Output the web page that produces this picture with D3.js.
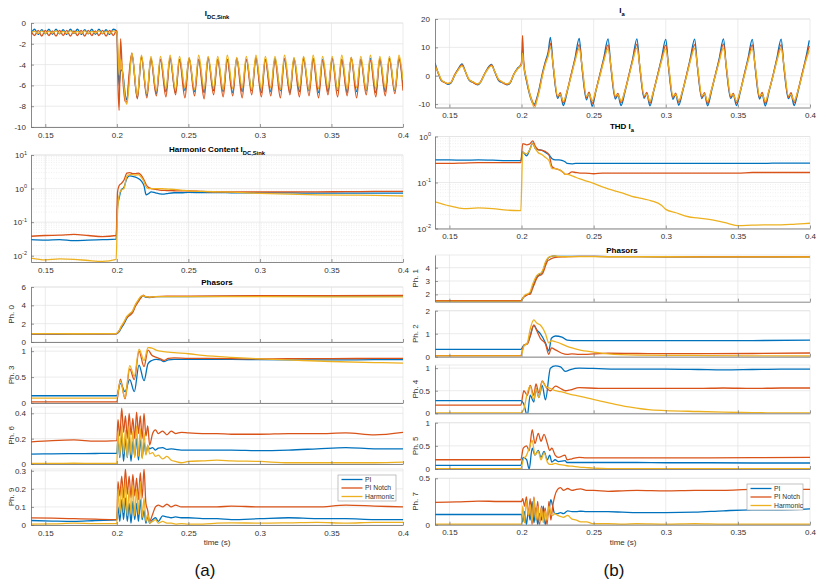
<!DOCTYPE html>
<html>
<head>
<meta charset="utf-8">
<script src="https://cdn.jsdelivr.net/npm/d3@7"></script>
<style>
body { margin: 0; background: #fff; }
svg text { font-family: "Liberation Sans", Arial, Helvetica, sans-serif; }
</style>
</head>
<body>
<svg id="chart" width="818" height="580"></svg>
<script>
// ---------- data ----------
var seriesNames = ["PI", "PI Notch", "Harmonic"];
var colors = ["#0072BD", "#D95319", "#EDB120"];
var xTickValues = [0.15, 0.2, 0.25, 0.3, 0.35, 0.4];

// (a) I_DC,Sink
var tIdc = [0.14,0.1425,0.145,0.1475,0.15,0.1525,0.155,0.1575,0.16,0.1625,0.165,0.1675,0.17,0.1725,0.175,0.1775,0.18,0.1825,0.185,0.1875,0.19,0.1925,0.195,0.1975,0.2,
  0.2008,0.2016,0.2026,0.2036,0.2048,0.2058,0.207,0.2085,
  0.2105,0.2143,0.2172,0.221,0.2238,0.2276,0.2305,0.2343,0.2372,0.241,0.2438,0.2476,0.2505,0.2543,0.2572,0.261,0.2638,0.2676,0.2705,0.2743,0.2772,0.281,0.2838,0.2876,0.2905,0.2943,0.2972,0.301,0.3038,0.3076,0.3105,0.3143,0.3172,0.321,0.3238,0.3276,0.3305,0.3343,0.3372,0.341,0.3438,0.3476,0.3505,0.3543,0.3572,0.361,0.3638,0.3676,0.3705,0.3743,0.3772,0.381,0.3838,0.3876,0.3905,0.3943,0.3972,0.4];
var idcPI = [-1.0,-0.6,-1.1,-0.65,-1.05,-0.6,-1.1,-0.6,-1.05,-0.65,-1.1,-0.6,-1.0,-0.6,-1.1,-0.65,-1.05,-0.6,-1.1,-0.6,-1.05,-0.65,-1.1,-0.6,-0.8,
  -4.2,-6.0,-4.6,-4.5,-5.5,-6.8,-7.4,-5.5,
  -3.0,-7.2,-3.3,-7.0,-3.4,-6.8,-3.5,-6.6,-3.4,-6.7,-3.5,-6.5,-3.4,-6.6,-3.5,-6.7,-3.4,-6.5,-3.5,-6.6,-3.5,-6.7,-3.4,-6.6,-3.5,-6.5,-3.4,-6.7,-3.5,-6.6,-3.4,-6.5,-3.5,-6.7,-3.4,-6.6,-3.5,-6.5,-3.4,-6.7,-3.5,-6.6,-3.4,-6.5,-3.5,-6.7,-3.4,-6.6,-3.5,-6.5,-3.4,-6.7,-3.5,-6.6,-3.4,-6.5,-3.5,-5.8];
var idcNotch = [-0.8,-1.2,-0.7,-1.25,-0.7,-1.2,-0.75,-1.25,-0.7,-1.2,-0.7,-1.25,-0.75,-1.2,-0.7,-1.25,-0.7,-1.2,-0.75,-1.2,-0.7,-1.25,-0.7,-1.2,-0.7,
  -6.0,-8.4,-1.5,-4.0,-6.5,-7.5,-7.6,-5.0,
  -2.9,-7.3,-3.2,-7.2,-3.4,-7.0,-3.5,-7.1,-3.3,-6.9,-3.6,-7.2,-3.4,-7.0,-3.5,-7.3,-3.3,-6.9,-3.5,-7.1,-3.6,-7.0,-3.4,-7.2,-3.5,-6.9,-3.3,-7.1,-3.5,-7.0,-3.6,-7.2,-3.4,-6.9,-3.5,-7.1,-3.3,-7.0,-3.5,-7.2,-3.6,-6.9,-3.4,-7.1,-3.5,-7.0,-3.3,-7.2,-3.5,-6.9,-3.6,-7.1,-3.4,-7.0,-3.5,-6.8,-3.3,-6.5];
var idcHarm = [-0.9,-0.8,-1.0,-0.75,-1.0,-0.8,-0.95,-0.75,-1.0,-0.8,-1.0,-0.75,-0.95,-0.8,-1.0,-0.75,-1.0,-0.8,-0.95,-0.75,-1.0,-0.8,-1.0,-0.75,-0.9,
  -2.5,-5.0,-3.5,-4.2,-5.8,-7.2,-7.8,-6.0,
  -2.9,-7.0,-3.1,-6.8,-3.2,-6.5,-3.2,-6.3,-3.1,-6.4,-3.2,-6.2,-3.3,-6.4,-3.1,-6.3,-3.2,-6.2,-3.2,-6.4,-3.1,-6.3,-3.3,-6.2,-3.2,-6.4,-3.1,-6.3,-3.2,-6.2,-3.2,-6.4,-3.1,-6.3,-3.3,-6.2,-3.2,-6.4,-3.1,-6.3,-3.2,-6.2,-3.2,-6.4,-3.1,-6.3,-3.3,-6.2,-3.2,-6.4,-3.1,-6.3,-3.2,-6.2,-3.2,-6.4,-3.1,-5.5];

// (a) Harmonic content of I_DC,Sink
var tHc = [0.14,0.15,0.16,0.17,0.18,0.19,0.1995,0.2005,0.2015,0.203,0.205,0.207,0.209,0.211,0.213,0.215,0.217,0.219,0.2205,0.222,0.224,0.227,0.23,0.233,0.236,0.24,0.245,0.25,0.26,0.27,0.28,0.3,0.32,0.34,0.36,0.38,0.4];
var hcPI = [0.03,0.029,0.03,0.028,0.029,0.03,0.031,0.3,0.5,0.9,1.1,2.0,2.4,2.3,2.2,2.0,1.7,1.2,0.65,0.7,0.8,0.75,0.7,0.68,0.72,0.75,0.75,0.77,0.76,0.76,0.75,0.74,0.74,0.73,0.73,0.73,0.73];
var hcNotch = [0.038,0.04,0.041,0.043,0.04,0.037,0.04,0.8,1.2,1.4,1.8,2.9,3.0,2.8,2.8,2.9,2.5,1.8,1.3,1.1,1.0,0.95,0.9,0.88,0.87,0.86,0.85,0.85,0.82,0.8,0.8,0.8,0.8,0.8,0.81,0.82,0.83];
var hcHarm = [0.0085,0.0075,0.008,0.0078,0.0072,0.0068,0.0078,0.2,0.6,0.9,1.0,2.3,2.6,2.6,2.5,2.6,2.2,1.6,1.1,1.0,1.0,1.0,1.0,0.98,0.96,0.95,0.9,0.85,0.82,0.8,0.78,0.72,0.68,0.65,0.64,0.63,0.6];

// (a) Phasor 0
var tPh0 = [0.14,0.17,0.1995,0.2015,0.203,0.205,0.207,0.209,0.211,0.213,0.215,0.217,0.2185,0.22,0.223,0.227,0.235,0.25,0.3,0.35,0.4];
var ph0PI = [0.85,0.85,0.88,1.1,1.5,2.0,2.6,3.0,3.3,4.0,4.5,4.9,5.05,4.9,4.85,4.95,4.95,4.95,5.0,5.0,5.0];
var ph0Notch = [0.9,0.88,0.9,1.2,1.6,2.1,2.7,2.9,3.2,3.9,4.4,4.85,5.1,4.95,4.9,4.95,5.0,5.0,5.05,5.05,5.08];
var ph0Harm = [0.92,0.9,0.92,1.2,1.7,2.2,2.8,3.1,3.4,4.1,4.6,5.0,5.05,4.95,4.9,4.95,4.95,4.95,4.95,4.93,4.92];

// (a) Phasor 3
var tPh3 = [0.14,0.17,0.1998,0.2025,0.2057,0.209,0.2122,0.2155,0.219,0.2218,0.2245,0.2275,0.2305,0.2328,0.236,0.24,0.25,0.26,0.28,0.3,0.32,0.35,0.38,0.4];
var ph3PI = [0.14,0.14,0.14,0.38,0.22,0.45,0.22,0.73,0.43,0.76,0.82,0.84,0.83,0.8,0.83,0.84,0.84,0.84,0.84,0.835,0.83,0.83,0.835,0.835];
var ph3Notch = [0.02,0.02,0.02,0.46,0.08,0.66,0.45,1.0,0.7,1.02,0.92,0.88,0.85,0.82,0.86,0.87,0.86,0.86,0.855,0.85,0.855,0.855,0.86,0.86];
var ph3Harm = [0.095,0.095,0.095,0.42,0.1,0.72,0.52,1.04,0.82,1.07,1.06,1.02,1.0,0.99,0.98,0.97,0.95,0.92,0.88,0.85,0.83,0.8,0.78,0.77];

// shared time base for the bursty phasors (Ph. 6, Ph. 9, Ph. 7)
var tBurst = [0.14,0.155,0.17,0.185,
  0.2,0.2008,0.2021,0.2034,0.2047,0.206,0.2073,0.2086,0.2099,0.2112,0.2125,0.2138,0.2151,0.2164,0.2177,0.219,0.2203,0.2216,0.2229,
  0.225,0.227,0.229,0.232,0.235,0.238,0.241,0.245,0.25,0.26,0.27,0.28,0.3,0.32,0.34,0.36,0.38,0.4];

// (a) Phasor 6
var ph6PI = [0.078,0.08,0.082,0.083,
  0.085,0.2,0.05,0.23,0.02,0.2,0.05,0.22,0.02,0.18,0.06,0.2,0.03,0.19,0.05,0.17,0.08,0.14,0.12,
  0.13,0.11,0.125,0.13,0.115,0.12,0.115,0.11,0.11,0.11,0.11,0.11,0.105,0.11,0.12,0.13,0.12,0.12];
var ph6Notch = [0.175,0.185,0.19,0.18,
  0.185,0.35,0.22,0.44,0.25,0.38,0.2,0.4,0.23,0.36,0.2,0.41,0.24,0.38,0.2,0.4,0.22,0.3,0.15,
  0.24,0.27,0.24,0.26,0.23,0.26,0.24,0.25,0.245,0.24,0.24,0.235,0.235,0.24,0.24,0.245,0.23,0.25];
var ph6Harm = [0.005,0.004,0.006,0.005,
  0.005,0.26,0.06,0.3,0.08,0.27,0.05,0.3,0.07,0.26,0.05,0.3,0.06,0.28,0.04,0.25,0.07,0.15,0.08,
  0.09,0.06,0.07,0.04,0.06,0.03,0.02,0.01,0.02,0.025,0.03,0.025,0.02,0.01,0.01,0.01,0.01,0.015];

// (a) Phasor 9
var ph9PI = [0.025,0.022,0.02,0.025,
  0.028,0.1,0.02,0.14,0.03,0.15,0.02,0.12,0.01,0.13,0.03,0.12,0.02,0.14,0.03,0.08,0.01,0.05,0.01,
  0.03,0.04,0.02,0.05,0.045,0.04,0.045,0.04,0.04,0.035,0.035,0.03,0.035,0.04,0.035,0.035,0.03,0.03];
var ph9Notch = [0.04,0.038,0.035,0.032,
  0.03,0.24,0.16,0.27,0.15,0.31,0.17,0.27,0.15,0.28,0.16,0.26,0.14,0.29,0.15,0.31,0.12,0.08,0.02,
  0.06,0.1,0.11,0.1,0.115,0.1,0.11,0.1,0.1,0.1,0.1,0.105,0.1,0.1,0.1,0.11,0.105,0.1];
var ph9Harm = [0.005,0.006,0.01,0.008,
  0.008,0.2,0.06,0.22,0.07,0.24,0.05,0.2,0.06,0.22,0.05,0.2,0.06,0.24,0.04,0.15,0.02,0.06,0.01,
  0.02,0.03,0.01,0.02,0.01,0.01,0.005,0.008,0.005,0.005,0.01,0.012,0.01,0.012,0.015,0.01,0.015,0.015];

// (b) I_a
var tIa = [0.14,0.1425,0.1445,0.1465,0.1488,0.151,0.1535,0.1562,0.1587,0.161,0.1635,0.1655,0.167,0.1693,0.1715,0.174,0.1765,0.1791,0.1815,0.184,0.186,0.1875,0.19,0.1922,0.1945,0.197,0.1992,
  0.2,0.2007,0.2015,0.2035,0.2055,0.2075,0.209,0.2105,0.2125,0.2145,0.2165,0.2185,
  0.22,0.222,0.225,0.2268,0.229,0.2315,0.2345,0.237,
  0.24,0.242,0.245,0.2468,0.249,0.2515,0.2545,0.257,
  0.26,0.262,0.265,0.2668,0.269,0.2715,0.2745,0.277,
  0.28,0.282,0.285,0.2868,0.289,0.2915,0.2945,0.297,
  0.3,0.302,0.305,0.3068,0.309,0.3115,0.3145,0.317,
  0.32,0.322,0.325,0.3268,0.329,0.3315,0.3345,0.337,
  0.34,0.342,0.345,0.3468,0.349,0.3515,0.3545,0.357,
  0.36,0.362,0.365,0.3668,0.369,0.3715,0.3745,0.377,
  0.38,0.382,0.385,0.3868,0.389,0.3915,0.3945,0.397,
  0.3995];
var iaPI = [4.5,0.5,-1.8,-2.2,-3.0,-2.6,0,2.5,4.2,1.5,-1.5,-2.2,-2.4,-3.2,-2.4,0.2,2.6,4.0,1.2,-1.6,-2.3,-2.5,-3.2,-2.5,0.3,2.5,3.5,
  4.0,9.5,4.0,-2.0,-6.5,-9.5,-10.0,-8.0,-4.0,1.0,5.0,8.5,
  13.5,3.0,-8.0,-6.5,-10.5,-6.0,0.5,6.0,
  13.2,2.5,-8.5,-6.0,-10.8,-5.5,0.8,6.2,
  13.0,2.8,-8.2,-6.8,-10.5,-6.2,0.3,5.8,
  13.0,3.0,-8.0,-6.2,-10.6,-5.8,0.6,6.0,
  12.8,2.6,-8.3,-6.5,-10.4,-6.0,0.4,6.1,
  12.9,2.9,-8.1,-6.3,-10.6,-5.9,0.5,5.9,
  13.0,2.7,-8.0,-6.6,-10.5,-6.1,0.6,6.0,
  12.8,2.8,-8.2,-6.4,-10.7,-5.8,0.4,6.1,
  12.9,2.6,-8.1,-6.5,-10.5,-6.0,0.5,6.0,
  12.5];
var iaNotch = [4.0,0.6,-1.6,-2.4,-2.8,-2.4,0.2,2.3,3.8,1.6,-1.3,-2.0,-2.6,-3.0,-2.2,0.3,2.4,3.8,1.4,-1.4,-2.1,-2.7,-3.0,-2.3,0.4,2.3,3.6,
  5.0,14.2,5.0,-1.5,-6.0,-9.0,-10.5,-8.5,-4.5,0.5,4.5,7.5,
  11.5,3.2,-7.5,-6.0,-9.6,-5.5,0.6,5.5,
  11.0,2.8,-7.8,-5.8,-9.8,-5.2,0.7,5.6,
  10.9,3.0,-7.6,-6.2,-9.5,-5.6,0.4,5.4,
  11.1,3.1,-7.5,-5.9,-9.7,-5.4,0.6,5.5,
  10.8,2.9,-7.7,-6.1,-9.4,-5.5,0.5,5.6,
  11.0,3.0,-7.6,-6.0,-9.8,-5.3,0.6,5.4,
  11.2,2.8,-7.5,-6.2,-9.6,-5.6,0.5,5.5,
  10.9,3.1,-7.7,-5.9,-9.7,-5.4,0.4,5.6,
  11.0,2.9,-7.6,-6.0,-9.5,-5.5,0.6,5.5,
  10.5];
var iaHarm = [3.5,0.8,-1.5,-2.2,-2.7,-2.4,0,2.1,3.5,1.5,-1.2,-2.0,-2.3,-2.9,-2.3,0.2,2.2,3.5,1.4,-1.2,-2.0,-2.4,-2.9,-2.2,0.3,2.2,3.4,
  4.0,8.0,3.5,-1.0,-6.0,-9.5,-11.5,-9.0,-5.0,0,4.0,7.0,
  10.0,3.6,-7.0,-6.6,-9.0,-5.6,0.0,5.0,
  9.6,3.4,-7.2,-6.4,-8.8,-5.3,0.2,5.1,
  9.5,3.5,-7.0,-6.7,-8.9,-5.6,-0.1,4.9,
  9.7,3.6,-6.9,-6.5,-9.0,-5.4,0.1,5.0,
  9.4,3.4,-7.1,-6.6,-8.8,-5.5,0.0,5.1,
  9.6,3.5,-7.0,-6.4,-9.0,-5.3,0.2,4.9,
  9.7,3.4,-6.9,-6.7,-8.9,-5.6,0.0,5.0,
  9.5,3.6,-7.1,-6.5,-9.0,-5.4,0.1,5.1,
  9.6,3.5,-7.0,-6.6,-8.8,-5.5,0.0,5.0,
  9.0];

// (b) THD of I_a
var tThd = [0.14,0.15,0.16,0.17,0.18,0.19,0.1995,0.2008,0.2035,0.2055,0.2078,0.2095,0.2115,0.2143,0.2166,0.219,0.2212,0.2235,0.2258,0.2285,0.2304,0.2316,0.235,0.2375,0.2405,0.244,0.25,0.256,0.262,0.269,0.2765,0.283,0.29,0.297,0.3,0.307,0.3157,0.322,0.334,0.343,0.35,0.36,0.368,0.38,0.39,0.4];
var thdPI = [0.31,0.31,0.305,0.31,0.305,0.3,0.3,0.46,0.38,0.5,0.72,0.55,0.52,0.5,0.45,0.4,0.33,0.31,0.31,0.3,0.28,0.26,0.255,0.26,0.26,0.26,0.26,0.26,0.26,0.26,0.26,0.26,0.26,0.26,0.26,0.26,0.26,0.26,0.26,0.26,0.26,0.26,0.26,0.265,0.265,0.265];
var thdNotch = [0.26,0.26,0.265,0.27,0.27,0.27,0.27,0.7,0.66,0.68,0.8,0.62,0.52,0.5,0.47,0.4,0.22,0.2,0.19,0.17,0.15,0.15,0.17,0.165,0.16,0.16,0.155,0.16,0.16,0.16,0.16,0.16,0.16,0.16,0.16,0.16,0.16,0.16,0.16,0.16,0.16,0.165,0.165,0.165,0.165,0.165];
var thdHarm = [0.038,0.031,0.027,0.028,0.027,0.025,0.0244,0.45,0.42,0.5,0.7,0.55,0.45,0.4,0.35,0.3,0.2,0.2,0.19,0.17,0.15,0.15,0.14,0.13,0.12,0.11,0.096,0.08,0.07,0.06,0.05,0.045,0.04,0.032,0.026,0.022,0.018,0.017,0.015,0.013,0.0115,0.0118,0.012,0.012,0.0125,0.013];

// (b) Phasor 1
var tPh1 = [0.14,0.17,0.1995,0.2015,0.203,0.2045,0.206,0.2075,0.209,0.2105,0.212,0.2135,0.215,0.2165,0.218,0.2195,0.221,0.2225,0.225,0.23,0.24,0.26,0.3,0.35,0.4];
var ph1PI = [1.52,1.52,1.52,1.8,1.95,2.0,2.1,2.5,2.9,3.3,3.45,3.55,3.8,4.3,4.65,4.8,4.85,4.88,4.85,4.85,4.85,4.83,4.82,4.82,4.81];
var ph1Notch = [1.52,1.52,1.52,1.8,1.9,2.0,2.0,2.4,2.8,3.2,3.4,3.45,3.65,4.1,4.5,4.6,4.7,4.75,4.8,4.82,4.85,4.83,4.82,4.82,4.82];
var ph1Harm = [1.48,1.48,1.48,1.85,2.0,2.05,2.2,2.7,3.1,3.4,3.55,3.6,3.9,4.4,4.7,4.82,4.86,4.88,4.84,4.82,4.83,4.82,4.82,4.81,4.8];

// (b) Phasor 2
var tPh2 = [0.14,0.17,0.1995,0.2016,0.204,0.206,0.2085,0.2108,0.213,0.2166,0.2189,0.2207,0.2235,0.228,0.2316,0.235,0.24,0.25,0.26,0.28,0.3,0.33,0.36,0.4];
var ph2PI = [0.32,0.32,0.32,0.5,0.58,0.9,1.35,1.15,1.0,0.6,0.25,0.8,0.9,0.85,0.72,0.7,0.7,0.7,0.7,0.7,0.7,0.7,0.7,0.72];
var ph2Notch = [0.05,0.05,0.05,0.5,0.55,0.9,1.38,1.1,0.8,0.55,0.1,0.38,0.3,0.15,0.1,0.12,0.1,0.12,0.15,0.14,0.13,0.13,0.14,0.16];
var ph2Harm = [0.04,0.035,0.04,0.45,0.6,1.2,1.6,1.45,1.38,1.0,0.6,0.7,0.65,0.55,0.45,0.38,0.3,0.2,0.12,0.07,0.06,0.05,0.04,0.03];

// (b) Phasor 4
var tPh4 = [0.14,0.17,0.1995,0.2016,0.204,0.206,0.2085,0.21,0.212,0.2143,0.2166,0.22,0.2235,0.227,0.2304,0.2339,0.24,0.2535,0.265,0.2765,0.288,0.3,0.3226,0.34,0.36,0.38,0.4];
var ph4PI = [0.28,0.28,0.28,0.2,-0.05,0.4,0.25,0.55,0.35,0.62,0.3,1.0,1.05,1.03,0.93,0.97,1.0,0.99,0.98,0.98,0.98,0.98,0.97,0.96,0.97,0.98,0.98];
var ph4Notch = [0.18,0.18,0.18,0.5,0.4,0.62,0.4,0.65,0.45,0.72,0.6,0.5,0.6,0.55,0.5,0.52,0.57,0.55,0.55,0.55,0.55,0.55,0.55,0.56,0.55,0.56,0.56];
var ph4Harm = [0.01,0.01,0.01,0.1,0.45,0.6,0.3,0.55,0.35,0.7,0.6,0.55,0.5,0.48,0.45,0.42,0.38,0.28,0.2,0.13,0.08,0.06,0.04,0.025,0.015,0.01,0.01];

// (b) Phasor 5
var tPh5 = [0.14,0.17,0.1995,0.2012,0.2035,0.2053,0.2074,0.2093,0.2116,0.2135,0.2156,0.2179,0.2195,0.221,0.2233,0.2256,0.2302,0.2315,0.235,0.24,0.245,0.25,0.26,0.28,0.3,0.33,0.36,0.4];
var ph5PI = [0.08,0.08,0.08,0.25,0.2,0.0,0.45,0.3,0.4,0.25,0.38,0.2,0.3,0.15,0.2,0.16,0.18,0.14,0.14,0.14,0.14,0.14,0.14,0.14,0.135,0.135,0.13,0.13];
var ph5Notch = [0.2,0.2,0.2,0.45,0.5,0.4,0.85,0.55,0.77,0.6,0.75,0.55,0.4,0.45,0.3,0.25,0.3,0.2,0.22,0.25,0.24,0.24,0.24,0.24,0.24,0.24,0.245,0.25];
var ph5Harm = [0.01,0.01,0.01,0.2,0.3,0.45,0.62,0.3,0.38,0.2,0.35,0.15,0.1,0.1,0.12,0.1,0.08,0.07,0.06,0.04,0.03,0.02,0.01,0.01,0.005,0.005,0.005,0.005];

// (b) Phasor 7
var ph7PI = [0.11,0.11,0.11,0.11,
  0.11,0.03,0.14,0.0,0.15,0.05,0.25,0.02,0.18,0.0,0.12,0.05,0.2,0.0,0.08,0.15,0.27,0.2,0.12,
  0.12,0.13,0.12,0.15,0.14,0.14,0.145,0.14,0.14,0.14,0.135,0.13,0.13,0.135,0.15,0.16,0.16,0.17];
var ph7Notch = [0.24,0.245,0.255,0.25,
  0.25,0.28,0.2,0.3,0.1,0.28,0.0,0.3,0.05,0.25,0.0,0.2,0.05,0.18,0.0,0.25,0.05,0.2,0.3,
  0.38,0.4,0.37,0.39,0.37,0.38,0.385,0.37,0.37,0.36,0.365,0.37,0.365,0.37,0.37,0.38,0.38,0.38];
var ph7Harm = [0.005,0.005,0.005,0.005,
  0.005,0.2,0.02,0.26,0.1,0.22,0.03,0.28,0.05,0.2,0.03,0.18,0.02,0.15,0.05,0.2,0.12,0.1,0.12,
  0.1,0.09,0.08,0.1,0.06,0.05,0.03,0.03,0.01,0.01,0.005,0.01,0.005,0.01,0.005,0.005,0.005,0.005];

// ---------- layout ----------
var colA = [31, 403], colB = [435, 810];
var panels = [
  {col: colA, y: [23, 127], domain: [-10, 0], ticks: [-10,-8,-6,-4,-2,0], xLabels: true, t: tIdc, s: [idcPI, idcNotch, idcHarm]},
  {col: colA, y: [155, 262], log: true, domain: [0.0065, 10], ticks: [0.01,0.1,1,10], xLabels: true, t: tHc, s: [hcPI, hcNotch, hcHarm]},
  {col: colA, y: [287, 342], domain: [0, 6], ticks: [0,2,4,6], label: "Ph. 0", t: tPh0, s: [ph0PI, ph0Notch, ph0Harm]},
  {col: colA, y: [347, 403], domain: [0, 1.08], ticks: [0,0.5,1], label: "Ph. 3", t: tPh3, s: [ph3PI, ph3Notch, ph3Harm]},
  {col: colA, y: [407, 464], domain: [0, 0.45], ticks: [0,0.2,0.4], label: "Ph. 6", t: tBurst, s: [ph6PI, ph6Notch, ph6Harm]},
  {col: colA, y: [469, 525], domain: [0, 0.31], ticks: [0,0.1,0.2,0.3], label: "Ph. 9", xLabels: true, t: tBurst, s: [ph9PI, ph9Notch, ph9Harm], legend: [338, 475, 58, 26]},
  {col: colB, y: [19, 107.5], domain: [-11.2, 20], ticks: [-10,0,10,20], xLabels: true, t: tIa, s: [iaPI, iaNotch, iaHarm]},
  {col: colB, y: [136.5, 228.5], log: true, domain: [0.01, 1], ticks: [0.01,0.1,1], xLabels: true, t: tThd, s: [thdPI, thdNotch, thdHarm]},
  {col: colB, y: [255, 301.7], domain: [1.45, 4.95], ticks: [2,3,4], label: "Ph. 1", t: tPh1, s: [ph1PI, ph1Notch, ph1Harm]},
  {col: colB, y: [310.7, 356.7], domain: [0, 2], ticks: [0,1,2], label: "Ph. 2", t: tPh2, s: [ph2PI, ph2Notch, ph2Harm]},
  {col: colB, y: [365, 413.3], domain: [0, 1.07], ticks: [0,0.5,1], label: "Ph. 4", t: tPh4, s: [ph4PI, ph4Notch, ph4Harm]},
  {col: colB, y: [422.7, 469], domain: [0, 1], ticks: [0,0.5,1], label: "Ph. 5", t: tPh5, s: [ph5PI, ph5Notch, ph5Harm]},
  {col: colB, y: [478.3, 524.7], domain: [0, 0.5], ticks: [0,0.5], label: "Ph. 7", xLabels: true, t: tBurst, s: [ph7PI, ph7Notch, ph7Harm], legend: [747, 484, 56, 26]}
];

panels.forEach(function(p, k) {
  p.s.forEach(function(v, i) {
    if (v.length !== p.t.length) throw new Error("panel " + k + " series " + i + ": " + v.length + " vs " + p.t.length);
  });
});

var svg = d3.select("#chart");
var defs = svg.append("defs");
var axisColor = "#6b6b6b", textColor = "#333", gridColor = "#e3e3e3";

function drawPanel(p, k) {
  var x = d3.scaleLinear().domain([0.14, 0.4]).range(p.col);
  var y = (p.log ? d3.scaleLog() : d3.scaleLinear()).domain(p.domain).range([p.y[1], p.y[0]]);
  var g = svg.append("g");

  // minor grid for log axes
  if (p.log) {
    var minor = [];
    for (var e = -3; e < 2; e++) for (var m = 2; m < 10; m++) {
      var v = m * Math.pow(10, e);
      if (v > p.domain[0] && v < p.domain[1]) minor.push(v);
    }
    g.selectAll(".mg").data(minor).enter().append("line")
      .attr("x1", p.col[0]).attr("x2", p.col[1])
      .attr("y1", function(d) { return y(d); }).attr("y2", function(d) { return y(d); })
      .attr("stroke", "#e6e6e6").attr("stroke-width", 0.6).attr("stroke-dasharray", "1,1.5");
  }
  // major grid
  g.selectAll(".gx").data(xTickValues).enter().append("line")
    .attr("x1", function(d) { return x(d); }).attr("x2", function(d) { return x(d); })
    .attr("y1", p.y[0]).attr("y2", p.y[1])
    .attr("stroke", gridColor).attr("stroke-width", 0.7);
  g.selectAll(".gy").data(p.ticks).enter().append("line")
    .attr("x1", p.col[0]).attr("x2", p.col[1])
    .attr("y1", function(d) { return y(d); }).attr("y2", function(d) { return y(d); })
    .attr("stroke", gridColor).attr("stroke-width", 0.7);
  g.append("line").attr("x1", p.col[0]).attr("x2", p.col[1]).attr("y1", p.y[0]).attr("y2", p.y[0])
    .attr("stroke", gridColor).attr("stroke-width", 0.7);

  // series
  var clipId = "clip" + k;
  defs.append("clipPath").attr("id", clipId).append("rect")
    .attr("x", p.col[0]).attr("y", p.y[0]).attr("width", p.col[1] - p.col[0]).attr("height", p.y[1] - p.y[0]);
  var lg = g.append("g").attr("clip-path", "url(#" + clipId + ")");
  p.s.forEach(function(vals, i) {
    var line = d3.line()
      .x(function(d, j) { return x(p.t[j]); })
      .y(function(d) { return y(Math.max(d, p.log ? 1e-4 : -1e9)); })
      .curve(d3.curveMonotoneX);
    lg.append("path").datum(vals).attr("d", line)
      .attr("fill", "none").attr("stroke", colors[i]).attr("stroke-width", 1.3)
      .attr("stroke-linejoin", "round");
  });

  // axes
  var xAxis = d3.axisBottom(x).tickValues(xTickValues).tickSizeInner(-3).tickSizeOuter(0).tickPadding(5)
    .tickFormat(p.xLabels ? function(d) { return String(d); } : function() { return ""; });
  var gx = g.append("g").attr("transform", "translate(0," + p.y[1] + ")").call(xAxis);
  var yAxis = d3.axisLeft(y).tickValues(p.ticks).tickSizeInner(-3).tickSizeOuter(0).tickPadding(5)
    .tickFormat(p.log ? function() { return ""; } : function(d) { return String(d); });
  var gy = g.append("g").attr("transform", "translate(" + p.col[0] + ",0)").call(yAxis);
  [gx, gy].forEach(function(a) {
    a.select(".domain").attr("stroke", axisColor).attr("stroke-width", 0.8);
    a.selectAll(".tick line").attr("stroke", axisColor).attr("stroke-width", 0.7);
    a.selectAll("text").attr("fill", textColor).style("font-size", "8px")
      .style("font-family", '"Liberation Sans", Arial, sans-serif');
  });
  if (p.log) {
    p.ticks.forEach(function(v) {
      var t = g.append("text").attr("x", p.col[0] - 4).attr("y", y(v) + 3)
        .attr("text-anchor", "end").attr("fill", textColor).style("font-size", "8px");
      t.append("tspan").text("10");
      t.append("tspan").attr("dy", -3.5).style("font-size", "5.5px").text(String(Math.round(Math.log10(v))));
    });
  }

  if (p.label) {
    var lx = p.col[0] - 17, ly = (p.y[0] + p.y[1]) / 2;
    g.append("text").attr("transform", "translate(" + lx + "," + ly + ") rotate(-90)")
      .attr("text-anchor", "middle").attr("fill", textColor).style("font-size", "8px").text(p.label);
  }

  if (p.legend) {
    var L = p.legend;
    var lgd = g.append("g");
    lgd.append("rect").attr("x", L[0]).attr("y", L[1]).attr("width", L[2]).attr("height", L[3])
      .attr("fill", "#fff").attr("stroke", "#a8a8a8").attr("stroke-width", 0.7);
    seriesNames.forEach(function(n, i) {
      var ry = L[1] + 4.5 + i * 8.5;
      lgd.append("line").attr("x1", L[0] + 3.5).attr("x2", L[0] + 24.5).attr("y1", ry).attr("y2", ry)
        .attr("stroke", colors[i]).attr("stroke-width", 1.3);
      lgd.append("text").attr("x", L[0] + 27).attr("y", ry + 2.4).attr("fill", textColor)
        .style("font-size", "6.8px").text(n);
    });
  }
}

panels.forEach(drawPanel);

// titles
function title(cx, cy, main, sub) {
  var t = svg.append("text").attr("x", cx).attr("y", cy).attr("text-anchor", "middle")
    .attr("fill", "#000").style("font-size", "8px").style("font-weight", "bold");
  t.append("tspan").text(main);
  if (sub) t.append("tspan").attr("dy", 2.5).style("font-size", "5.8px").text(sub);
}
title(217, 16, "I", "DC,Sink");
title(217, 152, "Harmonic Content I", "DC,Sink");
title(217, 285, "Phasors");
title(622, 13, "I", "a");
title(622, 129, "THD I", "a");
title(622, 253, "Phasors");

svg.append("text").attr("x", 217).attr("y", 545).attr("text-anchor", "middle").attr("fill", textColor)
  .style("font-size", "8px").text("time (s)");
svg.append("text").attr("x", 623).attr("y", 545).attr("text-anchor", "middle").attr("fill", textColor)
  .style("font-size", "8px").text("time (s)");
svg.append("text").attr("x", 205).attr("y", 576).attr("text-anchor", "middle").attr("fill", "#111")
  .style("font-size", "17px").text("(a)");
svg.append("text").attr("x", 614).attr("y", 576).attr("text-anchor", "middle").attr("fill", "#111")
  .style("font-size", "17px").text("(b)");
</script>
</body>
</html>
